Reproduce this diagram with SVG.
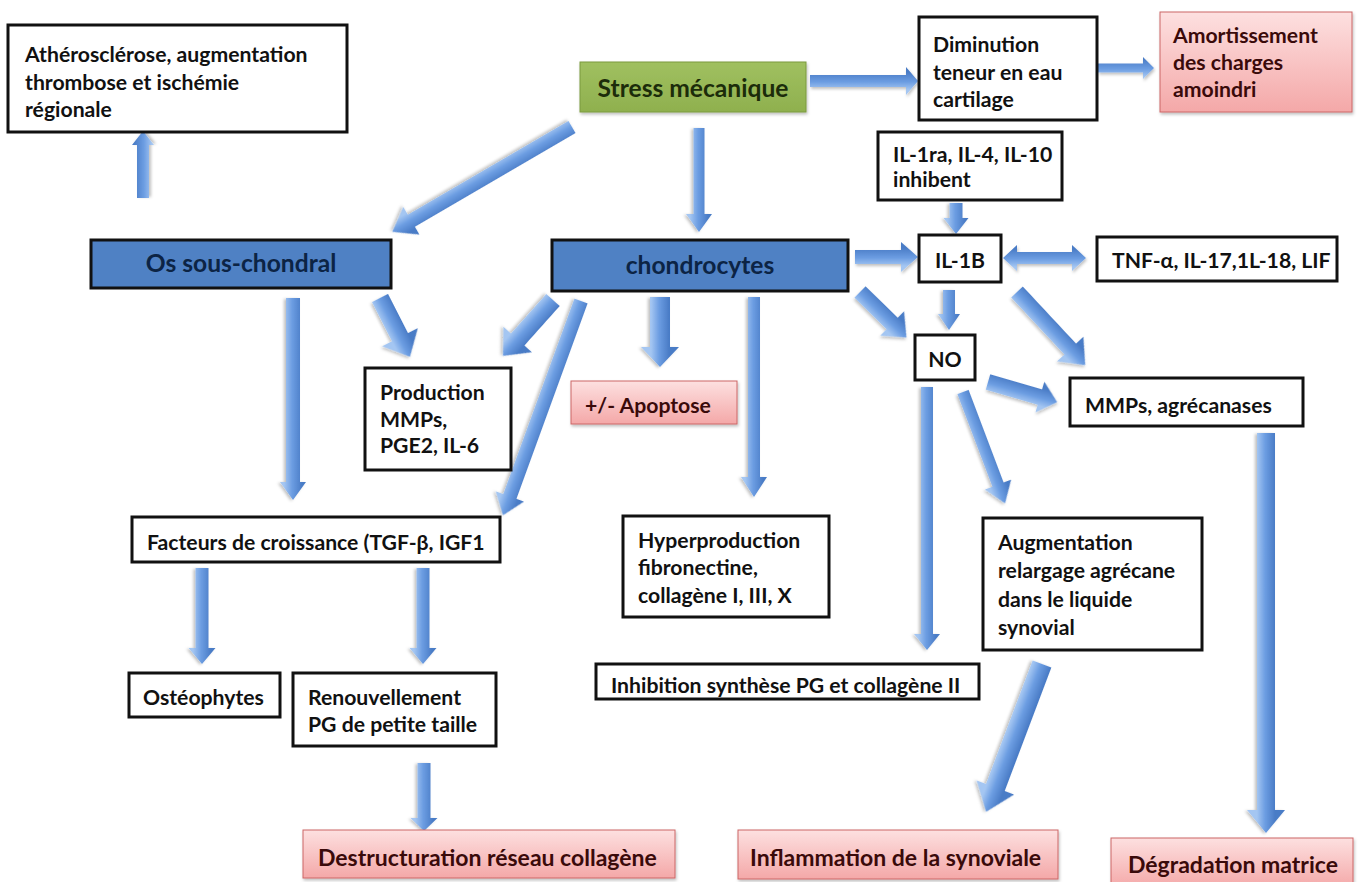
<svg xmlns="http://www.w3.org/2000/svg" width="1360" height="882" viewBox="0 0 1360 882">
<defs>
<linearGradient id="arr" gradientUnits="userSpaceOnUse" x1="0" y1="-9" x2="0" y2="9">
<stop offset="0" stop-color="#4a7cc6"/><stop offset="0.55" stop-color="#6c9de2"/><stop offset="1" stop-color="#a4c6f2"/>
</linearGradient>
<linearGradient id="pink" x1="0" y1="0" x2="0" y2="1">
<stop offset="0" stop-color="#fde0e0"/><stop offset="1" stop-color="#f4a8a8"/>
</linearGradient>
<linearGradient id="green" x1="0" y1="0" x2="0" y2="1">
<stop offset="0" stop-color="#a0c060"/><stop offset="1" stop-color="#8fb04e"/>
</linearGradient>
<filter id="sh" x="-10%" y="-10%" width="130%" height="140%"><feDropShadow dx="1" dy="2" stdDeviation="1.5" flood-color="#000" flood-opacity="0.25"/></filter>
</defs>
<style>
.w{fill:#fff;stroke:#111;stroke-width:3}
.p{fill:url(#pink);stroke:#c66;stroke-width:1;filter:url(#sh)}
.b{fill:#4f81c4;stroke:#111;stroke-width:3}
.g{fill:url(#green);stroke:#7b9a3f;stroke-width:1;filter:url(#sh)}
text{font-family:Lato,"Open Sans","Liberation Sans",sans-serif;font-weight:700;font-size:21.2px;fill:#111}
.big{font-size:24.6px}
.pb{font-size:23px}
.pt{fill:#3a0a0a}
.bt{fill:#0c2445}
.gt{fill:#1c2c0a}
.c{text-anchor:middle}
.a{fill:url(#arr);filter:url(#sh)}
</style>
<rect width="1360" height="882" fill="#fff"/>
<g id="connectors">
<polygon class="a" transform="translate(810,81)" points="0,-6 96,-6 96,-14 108,0 96,14 96,6 0,6"/>
<polygon class="a" transform="translate(1098,68)" points="0,-4.5 45,-4.5 45,-11 56,0 45,11 45,4.5 0,4.5"/>
<polygon class="a" transform="translate(699,128) rotate(90)" points="0,-5.5 86,-5.5 86,-13 104,0 86,13 86,5.5 0,5.5"/>
<polygon class="a" transform="translate(572,127) rotate(149.74)" points="0,-7 186,-7 186,-16 208,0 186,16 186,7 0,7"/>
<polygon class="a" transform="translate(143,198) rotate(-90)" points="0,-6 53,-6 53,-11 67,0 53,11 53,6 0,6"/>
<polygon class="a" transform="translate(293,298) rotate(90)" points="0,-7 184,-7 184,-13 202,0 184,13 184,7 0,7"/>
<polygon class="a" transform="translate(380,298) rotate(63)" points="0,-9 44,-9 44,-20 66,0 44,20 44,9 0,9"/>
<polygon class="a" transform="translate(553,300) rotate(131.8)" points="0,-9 53,-9 53,-19 75,0 53,19 53,9 0,9"/>
<polygon class="a" transform="translate(581,301) rotate(110)" points="0,-7 208,-7 208,-15 228,0 208,15 208,7 0,7"/>
<polygon class="a" transform="translate(660,297) rotate(90)" points="0,-10 50,-10 50,-19 70,0 50,19 50,10 0,10"/>
<polygon class="a" transform="translate(754,297) rotate(90)" points="0,-6 180,-6 180,-13 200,0 180,13 180,6 0,6"/>
<polygon class="a" transform="translate(855,257)" points="0,-7 46,-7 46,-15 63,0 46,15 46,7 0,7"/>
<polygon class="a" transform="translate(860,292) rotate(44.4)" points="0,-8 45,-8 45,-17 65,0 45,17 45,8 0,8"/>
<polygon class="a" transform="translate(956,203) rotate(90)" points="0,-6.5 15,-6.5 15,-12.5 31,0 15,12.5 15,6.5 0,6.5"/>
<polygon class="a" transform="translate(1003,258)" points="0,0 14,-13 14,-6 69,-6 69,-13 83,0 69,13 69,6 14,6 14,13"/>
<polygon class="a" transform="translate(949,290) rotate(90)" points="0,-6 24,-6 24,-11 40,0 24,11 24,6 0,6"/>
<polygon class="a" transform="translate(1017,292) rotate(47)" points="0,-8 78,-8 78,-18 100,0 78,18 78,8 0,8"/>
<polygon class="a" transform="translate(988,382) rotate(16.2)" points="0,-8 54,-8 54,-16 72,0 54,16 54,8 0,8"/>
<polygon class="a" transform="translate(927,387) rotate(90)" points="0,-6 247,-6 247,-13 263,0 247,13 247,6 0,6"/>
<polygon class="a" transform="translate(963,392) rotate(69.3)" points="0,-6 99,-6 99,-14 119,0 99,14 99,6 0,6"/>
<polygon class="a" transform="translate(1266,433) rotate(90)" points="0,-9 377,-9 377,-19 400,0 377,19 377,9 0,9"/>
<polygon class="a" transform="translate(1042,664) rotate(110.7)" points="0,-10 132,-10 132,-20 158,0 132,20 132,10 0,10"/>
<polygon class="a" transform="translate(202,568) rotate(90)" points="0,-6.5 80,-6.5 80,-13.5 96,0 80,13.5 80,6.5 0,6.5"/>
<polygon class="a" transform="translate(423,568) rotate(90)" points="0,-6.5 80,-6.5 80,-13.5 96,0 80,13.5 80,6.5 0,6.5"/>
<polygon class="a" transform="translate(424,763) rotate(90)" points="0,-6.5 55,-6.5 55,-13.5 68,0 55,13.5 55,6.5 0,6.5"/>
</g>
<g id="atherosclerose"><rect class="w" x="8" y="25" width="339" height="107"/>
<text x="25" y="62">Athérosclérose, augmentation</text><text x="25" y="90">thrombose et ischémie</text><text x="25" y="117">régionale</text></g>
<g id="stress"><rect class="g" x="580" y="62" width="226" height="50"/>
<text class="big gt c" x="693" y="97">Stress mécanique</text></g>
<g id="diminution"><rect class="w" x="919" y="17" width="178" height="103"/>
<text x="933" y="52">Diminution</text><text x="933" y="80">teneur en eau</text><text x="933" y="107">cartilage</text></g>
<g id="amortissement"><rect class="p" x="1160" y="12" width="192" height="100"/>
<text class="pt" x="1173" y="43">Amortissement</text><text class="pt" x="1173" y="70">des charges</text><text class="pt" x="1173" y="97">amoindri</text></g>
<g id="il1ra"><rect class="w" x="878" y="132" width="184" height="68"/>
<text x="893" y="162" font-size="19px">IL-1ra, IL-4, IL-10</text><text x="893" y="187" font-size="19px">inhibent</text></g>
<g id="il1b"><rect class="w" x="919" y="235" width="82" height="47"/>
<text class="c" x="960" y="268">IL-1B</text></g>
<g id="tnf"><rect class="w" x="1097" y="237" width="240" height="44"/>
<text x="1112" y="268" font-size="20px">TNF-α, IL-17,1L-18, LIF</text></g>
<g id="os"><rect class="b" x="91" y="240" width="300" height="48"/>
<text class="big bt c" x="241" y="272">Os sous-chondral</text></g>
<g id="chondrocytes"><rect class="b" x="552" y="240" width="296" height="51"/>
<text class="big bt c" x="700" y="274">chondrocytes</text></g>
<g id="production"><rect class="w" x="365" y="368" width="146" height="102"/>
<text x="380" y="400">Production</text><text x="380" y="427">MMPs,</text><text x="380" y="453">PGE2, IL-6</text></g>
<g id="apoptose"><rect class="p" x="571" y="381" width="166" height="43"/>
<text class="pt" x="585" y="413">+/- Apoptose</text></g>
<g id="no"><rect class="w" x="915" y="335" width="60" height="45"/>
<text class="c" x="945" y="367">NO</text></g>
<g id="mmps"><rect class="w" x="1070" y="378" width="233" height="48"/>
<text x="1085" y="413" font-size="23px">MMPs, agrécanases</text></g>
<g id="augmentation"><rect class="w" x="983" y="518" width="219" height="132"/>
<text x="998" y="550">Augmentation</text><text x="998" y="578">relargage agrécane</text><text x="998" y="607">dans le liquide</text><text x="998" y="635">synovial</text></g>
<g id="facteurs"><rect class="w" x="132" y="517" width="368" height="45"/>
<text x="147" y="550" font-size="19.8px">Facteurs de croissance (TGF-β, IGF1</text></g>
<g id="osteophytes"><rect class="w" x="129" y="673" width="151" height="44"/>
<text x="143" y="705">Ostéophytes</text></g>
<g id="renouvellement"><rect class="w" x="293" y="673" width="203" height="73"/>
<text x="308" y="705">Renouvellement</text><text x="308" y="732">PG de petite taille</text></g>
<g id="destructuration"><rect class="p" x="303" y="830" width="372" height="48"/>
<text class="pt pb" x="318" y="866">Destructuration réseau collagène</text></g>
<g id="hyperproduction"><rect class="w" x="623" y="516" width="206" height="101"/>
<text x="638" y="548">Hyperproduction</text><text x="638" y="575">fibronectine,</text><text x="638" y="603">collagène I, III, X</text></g>
<g id="inhibition"><rect class="w" x="596" y="664" width="383" height="35"/>
<text x="611" y="693">Inhibition synthèse PG et collagène II</text></g>
<g id="inflammation"><rect class="p" x="738" y="830" width="320" height="49"/>
<text class="pt pb" x="750" y="866">Inflammation de la synoviale</text></g>
<g id="degradation"><rect class="p" x="1111" y="838" width="242" height="50"/>
<text class="pt pb" x="1128" y="873">Dégradation matrice</text></g>
</svg>
